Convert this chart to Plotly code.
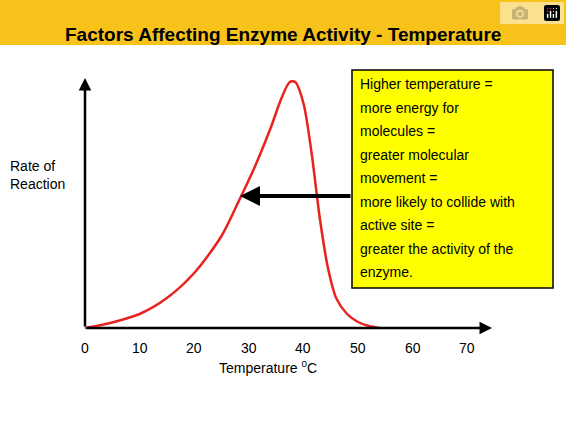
import plotly.graph_objects as go

# curve (rate in px above the axis)
temp = [0, 3, 6, 10, 15, 20, 25, 28, 31, 34, 36, 37.5, 38.5, 40, 41.5, 43, 44.5, 46, 48, 50, 52, 54]
rate = [0, 3, 7, 14, 30, 55, 92, 125, 160, 200, 230, 246, 246, 225, 175, 110, 60, 30, 14, 6, 2, 0]
tick_vals = [0, 10, 20, 30, 40, 50, 60, 70]
box_lines = ["Higher temperature =", "more energy for", "molecules =", "greater molecular",
             "movement =", "more likely to collide with", "active site =",
             "greater the activity of the", "enzyme."]

ppu = 5.46
xmin = -85 / ppu
xmax = xmin + 566 / ppu

fig = go.Figure()
fig.add_scatter(x=temp, y=rate, mode="lines", line=dict(color="#e8231e", width=2.5,
                shape="spline", smoothing=0.8), hoverinfo="skip")

font = dict(family="Liberation Sans, Arial", size=14, color="black")
ann = []
for t in tick_vals:
    ann.append(dict(x=t, y=-10, text=str(t), showarrow=False, yanchor="top", font=font))
ann.append(dict(x=(268 - 85) / ppu, y=-28, text="Temperature <sup>0</sup>C", showarrow=False,
                yanchor="top", font=font))
ann.append(dict(x=(8 - 85) / ppu, y=328 - 175, text="Rate of<br>Reaction", showarrow=False,
                xanchor="left", align="left", font=font))
# axes arrows
ann.append(dict(x=(492 - 85) / ppu, y=0, ax=0, ay=0, axref="x", ayref="y", showarrow=True,
                arrowhead=2, arrowsize=1, arrowwidth=2.5, arrowcolor="black", text=""))
ann.append(dict(x=0, y=328 - 78, ax=0, ay=0, axref="x", ayref="y", showarrow=True,
                arrowhead=2, arrowsize=1, arrowwidth=2.5, arrowcolor="black", text=""))
# pointer arrow
ann.append(dict(x=(240 - 85) / ppu, y=328 - 196, ax=(352 - 85) / ppu, ay=328 - 196,
                axref="x", ayref="y", showarrow=True, arrowhead=2, arrowsize=1,
                arrowwidth=4, arrowcolor="black", text=""))
for i, line in enumerate(box_lines):
    ann.append(dict(x=(358 - 85) / ppu, y=328 - (84 + i * 23.5), text=line, showarrow=False,
                    xanchor="left", yanchor="middle", font=font))
ann.append(dict(xref="paper", yref="paper", x=0.5, y=1 - 22 / 424,
                text="<b>Factors Affecting Enzyme Activity - Temperature</b>", showarrow=False,
                font=dict(family="Liberation Sans Narrow, Liberation Sans, Arial", size=19,
                          color="black")))

fig.update_layout(
    width=566, height=424, margin=dict(l=0, r=0, t=0, b=0),
    paper_bgcolor="white", plot_bgcolor="white", showlegend=False,
    xaxis=dict(range=[xmin, xmax], visible=False, fixedrange=True),
    yaxis=dict(range=[-96, 328], visible=False, fixedrange=True),
    annotations=ann,
    shapes=[
        dict(type="rect", xref="paper", yref="paper", x0=0, x1=1, y0=1 - 45 / 424, y1=1,
             fillcolor="#f7c21a", line_width=0, layer="below"),
        dict(type="rect", x0=(352 - 85) / ppu, x1=(553 - 85) / ppu, y0=328 - 288, y1=328 - 70,
             fillcolor="#ffff00", line=dict(color="black", width=1.5), layer="below"),
    ],
)
fig.write_html("out.html", post_script="document.body.style.margin='0';")
